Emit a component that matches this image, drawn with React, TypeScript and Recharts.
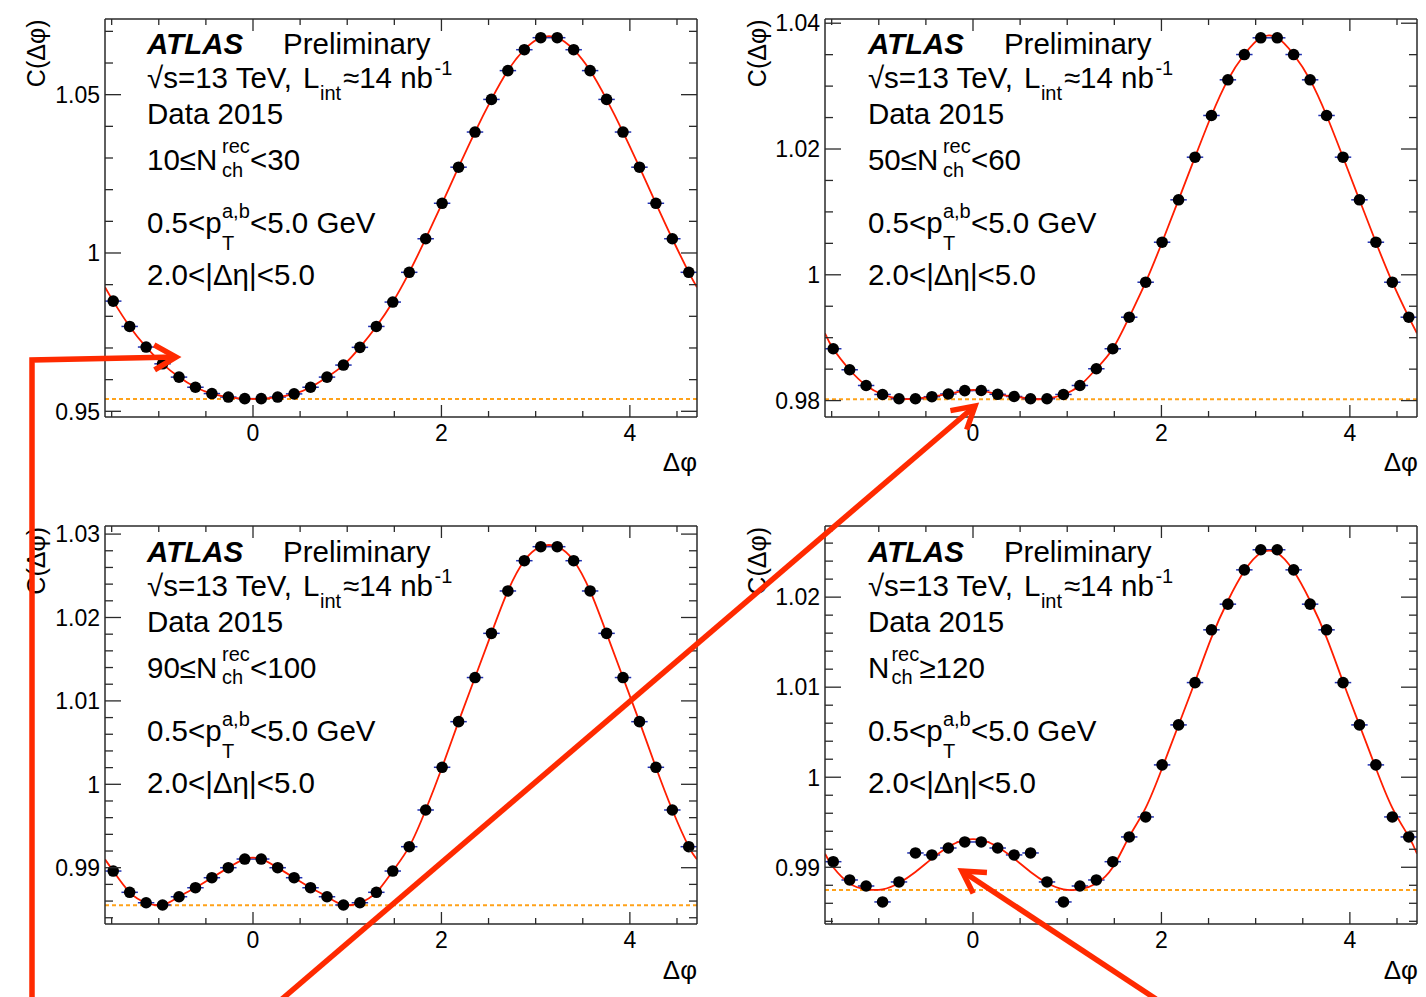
import React from 'react';
import { ComposedChart, Scatter, Line, XAxis, YAxis, ReferenceLine, ErrorBar } from 'recharts';

// ---- categories: Δφ bin centres (36 bins over [-π/2, 3π/2]) ----
const DPHI = [-1.4835, -1.309, -1.1345, -0.9599, -0.7854, -0.6109, -0.4363, -0.2618, -0.0873, 0.0873, 0.2618, 0.4363, 0.6109, 0.7854, 0.9599, 1.1345, 1.309, 1.4835, 1.6581, 1.8326, 2.0071, 2.1817, 2.3562, 2.5307, 2.7053, 2.8798, 3.0543, 3.2289, 3.4034, 3.5779, 3.7525, 3.927, 4.1015, 4.2761, 4.4506, 4.6251];
const X_MIN = -1.5708;
const X_MAX = 4.7124;
const HALF_BIN = 0.0873;

// ---- series values: C(Δφ) data points ----
const c1Data = [0.9848, 0.9768, 0.9703, 0.965, 0.9608, 0.9576, 0.9556, 0.9545, 0.954, 0.954, 0.9545, 0.9555, 0.9576, 0.9608, 0.9646, 0.9702, 0.9768, 0.9845, 0.9939, 1.0045, 1.0157, 1.0271, 1.0382, 1.0485, 1.0576, 1.0642, 1.068, 1.068, 1.0642, 1.0576, 1.0485, 1.0382, 1.0271, 1.0157, 1.0045, 0.9939];
const c2Data = [0.98824, 0.9849, 0.9824, 0.98097, 0.98029, 0.98029, 0.98062, 0.98105, 0.98158, 0.9816, 0.981, 0.98065, 0.98029, 0.98029, 0.98097, 0.9824, 0.98506, 0.98824, 0.99326, 0.99882, 1.00518, 1.01192, 1.0187, 1.02533, 1.031, 1.03502, 1.03768, 1.03768, 1.03502, 1.031, 1.02533, 1.0187, 1.01192, 1.00518, 0.99882, 0.99326];
const c3Data = [0.9896, 0.98705, 0.9858, 0.98553, 0.98652, 0.9876, 0.9888, 0.99, 0.99104, 0.99104, 0.99, 0.9888, 0.9876, 0.98652, 0.98553, 0.9858, 0.98705, 0.9896, 0.99252, 0.99692, 1.00204, 1.00751, 1.0128, 1.0181, 1.02318, 1.02681, 1.02849, 1.02849, 1.02681, 1.02318, 1.0181, 1.0128, 1.00751, 1.00204, 0.99692, 0.99252];
const c4Data = [0.99062, 0.98859, 0.98792, 0.98615, 0.98837, 0.99159, 0.99137, 0.99214, 0.99281, 0.99281, 0.99214, 0.99137, 0.99159, 0.98837, 0.98615, 0.98792, 0.98859, 0.99062, 0.99337, 0.99559, 1.00137, 1.00581, 1.01051, 1.01637, 1.01922, 1.02303, 1.02526, 1.02526, 1.02303, 1.01922, 1.01637, 1.01051, 1.00581, 1.00137, 0.99559, 0.99337];

// ---- fit curves (values at the plot edges, then at bin centres) ----
const FIT_X = [X_MIN, ...DPHI, X_MAX];
const c1FitEdge = 0.9892;
const c2FitEdge = 0.9907;
const c3FitEdge = 0.991;
const c4Fit = [0.9915, 0.99, 0.9882, 0.98755, 0.98755, 0.98826, 0.98948, 0.99096, 0.99225, 0.99303, 0.99303, 0.99225, 0.99096, 0.98948, 0.98826, 0.98755, 0.98755, 0.9882, 0.99, 0.9934, 0.9966, 1.001, 1.0058, 1.0106, 1.0155, 1.0196, 1.0229, 1.0249, 1.0249, 1.0229, 1.0196, 1.0155, 1.0106, 1.0058, 1.001, 0.9966, 0.9934, 0.9915];

// ---- ZYAM baselines ----
const BASELINES = [0.9539, 0.9802, 0.9855, 0.98748];

// ---- tick labels ----
const X_TICKS = [-1.5, -1, -0.5, 0, 0.5, 1, 1.5, 2, 2.5, 3, 3.5, 4, 4.5];
const X_MAJOR = [0, 2, 4];
const X_LABELS = ['0', '2', '4'];

const Y1_TICKS = [0.95, 0.96, 0.97, 0.98, 0.99, 1.0, 1.01, 1.02, 1.03, 1.04, 1.05, 1.06, 1.07];
const Y1_MAJOR = [0.95, 1.0, 1.05];
const Y1_LABELS = ['0.95', '1', '1.05'];
const Y2_TICKS = [0.98, 0.985, 0.99, 0.995, 1.0, 1.005, 1.01, 1.015, 1.02, 1.025, 1.03, 1.035, 1.04];
const Y2_MAJOR = [0.98, 1.0, 1.02, 1.04];
const Y2_LABELS = ['0.98', '1', '1.02', '1.04'];
const Y3_TICKS = [0.984, 0.986, 0.988, 0.99, 0.992, 0.994, 0.996, 0.998, 1.0, 1.002, 1.004, 1.006, 1.008, 1.01, 1.012, 1.014, 1.016, 1.018, 1.02, 1.022, 1.024, 1.026, 1.028, 1.03];
const Y3_MAJOR = [0.99, 1.0, 1.01, 1.02, 1.03];
const Y3_LABELS = ['0.99', '1', '1.01', '1.02', '1.03'];
const Y4_TICKS = [0.984, 0.986, 0.988, 0.99, 0.992, 0.994, 0.996, 0.998, 1.0, 1.002, 1.004, 1.006, 1.008, 1.01, 1.012, 1.014, 1.016, 1.018, 1.02, 1.022, 1.024, 1.026];
const Y4_MAJOR = [0.99, 1.0, 1.01, 1.02];
const Y4_LABELS = ['0.99', '1', '1.01', '1.02'];

const MULT_PRE = ['10≤N', '50≤N', '90≤N', 'N'];
const MULT_POST = ['<30', '<60', '<100', '≥120'];

const FONT = '"Liberation Sans", Arial, Helvetica, sans-serif';
const AXIS_COLOR = '#2a2a2a';
const PLOT_W = 592;
const PLOT_H = 398;
const LEFT_W = 100;
const TOP_H = 1;
const TOP_M = 9;
const RIGHT_W = 1;
const RIGHT_M = 9;
const BOTTOM_H = 60;
const TICK_FONT = 23;

const isMajor = (majors: number[], v: number) => majors.findIndex((m) => Math.abs(m - v) < 1e-7);

function makeXTick(side: 'bottom' | 'top') {
  return (props: any) => {
    const { x, y, payload } = props;
    const mi = isMajor(X_MAJOR, payload.value);
    const len = mi >= 0 ? 12 : 6;
    const dir = side === 'bottom' ? -1 : 1;
    return (
      <g>
        <line x1={x} x2={x} y1={y} y2={y + dir * len} stroke={AXIS_COLOR} strokeWidth={1.3} />
        {side === 'bottom' && mi >= 0 && (
          <text x={x} y={y + 24} textAnchor="middle" fontFamily={FONT} fontSize={TICK_FONT} fill="#000">
            {X_LABELS[mi]}
          </text>
        )}
      </g>
    );
  };
}

function makeYTick(side: 'left' | 'right', majors: number[], labels: string[]) {
  return (props: any) => {
    const { x, y, payload } = props;
    const mi = isMajor(majors, payload.value);
    const len = mi >= 0 ? 16 : 8;
    const dir = side === 'left' ? 1 : -1;
    return (
      <g>
        <line x1={x} x2={x + dir * len} y1={y} y2={y} stroke={AXIS_COLOR} strokeWidth={1.3} />
        {side === 'left' && mi >= 0 && (
          <text x={x - 5} y={y} dy="0.36em" textAnchor="end" fontFamily={FONT} fontSize={TICK_FONT} fill="#000">
            {labels[mi]}
          </text>
        )}
      </g>
    );
  };
}

const Marker = (p: any) => <circle cx={p.cx} cy={p.cy} r={5.8} fill="#000" />;
const NoMarker = () => <g />;

type PanelCfg = {
  left: number;
  top: number;
  domain: [number, number];
  ticks: number[];
  major: number[];
  labels: string[];
  base: number;
  values: number[];
  fit: number[];
};

const PANELS: PanelCfg[] = [
  { left: 104.5, top: 18.5, domain: [0.9482, 1.0739], ticks: Y1_TICKS, major: Y1_MAJOR, labels: Y1_LABELS, base: BASELINES[0], values: c1Data, fit: [c1FitEdge, ...c1Data, c1FitEdge] },
  { left: 825.4, top: 18.5, domain: [0.97739, 1.04067], ticks: Y2_TICKS, major: Y2_MAJOR, labels: Y2_LABELS, base: BASELINES[1], values: c2Data, fit: [c2FitEdge, ...c2Data, c2FitEdge] },
  { left: 104.5, top: 526, domain: [0.98325, 1.03097], ticks: Y3_TICKS, major: Y3_MAJOR, labels: Y3_LABELS, base: BASELINES[2], values: c3Data, fit: [c3FitEdge, ...c3Data, c3FitEdge] },
  { left: 825.4, top: 526, domain: [0.9837, 1.0279], ticks: Y4_TICKS, major: Y4_MAJOR, labels: Y4_LABELS, base: BASELINES[3], values: c4Data, fit: c4Fit },
];

function Panel({ cfg }: { cfg: PanelCfg }) {
  const pts = DPHI.map((x, i) => ({ x, y: cfg.values[i], ex: HALF_BIN }));
  const fit = FIT_X.map((x, i) => ({ x, y: cfg.fit[i] }));
  const stroke = { stroke: AXIS_COLOR, strokeWidth: 1.5 };
  return (
    <div style={{ position: 'absolute', left: cfg.left - LEFT_W, top: cfg.top - TOP_M - TOP_H }}>
      <ComposedChart
        width={LEFT_W + PLOT_W + RIGHT_W + RIGHT_M}
        height={TOP_M + TOP_H + PLOT_H + BOTTOM_H}
        margin={{ top: TOP_M, right: RIGHT_M, bottom: 0, left: 0 }}
      >
        <XAxis xAxisId="t" orientation="top" dataKey="x" type="number" domain={[X_MIN, X_MAX]} allowDataOverflow ticks={X_TICKS} interval={0} height={TOP_H} tickSize={0} tickMargin={0} tickLine={false} axisLine={stroke} tick={makeXTick('top')} />
        <XAxis xAxisId="b" orientation="bottom" dataKey="x" type="number" domain={[X_MIN, X_MAX]} allowDataOverflow ticks={X_TICKS} interval={0} height={BOTTOM_H} tickSize={0} tickMargin={0} tickLine={false} axisLine={stroke} tick={makeXTick('bottom')} />
        <YAxis yAxisId="l" orientation="left" dataKey="y" type="number" domain={cfg.domain} allowDataOverflow ticks={cfg.ticks} interval={0} width={LEFT_W} tickSize={0} tickMargin={0} tickLine={false} axisLine={stroke} tick={makeYTick('left', cfg.major, cfg.labels)} />
        <YAxis yAxisId="r" orientation="right" dataKey="y" type="number" domain={cfg.domain} allowDataOverflow ticks={cfg.ticks} interval={0} width={RIGHT_W} tickSize={0} tickMargin={0} tickLine={false} axisLine={stroke} tick={makeYTick('right', cfg.major, cfg.labels)} />
        <ReferenceLine xAxisId="b" yAxisId="l" y={cfg.base} stroke="#ffa21a" strokeWidth={2} strokeDasharray="4 3" />
        <Scatter xAxisId="t" yAxisId="r" data={pts} dataKey="y" shape={NoMarker} isAnimationActive={false} />
        <Scatter xAxisId="b" yAxisId="l" data={pts} dataKey="y" shape={Marker} isAnimationActive={false}>
          <ErrorBar dataKey="ex" direction="x" width={0} stroke="#1f2fb0" strokeWidth={1.5} isAnimationActive={false} />
        </Scatter>
        <Line xAxisId="b" yAxisId="l" data={fit} dataKey="y" type="natural" stroke="#ff1e00" strokeWidth={1.8} dot={false} activeDot={false} isAnimationActive={false} />
      </ComposedChart>
    </div>
  );
}

const TXT = { fontFamily: FONT, fill: '#000' } as const;
const BIG = 29.5;
const SMALL = 20;

function PanelText({ idx, dx, dy }: { idx: number; dx: number; dy: number }) {
  const supX = idx === 3 ? 170.5 : 222;
  const postX = idx === 3 ? 198.5 : 250;
  return (
    <g transform={`translate(${dx},${dy})`}>
      <text x={45} y={19.5} transform="rotate(-90 45 19.5)" textAnchor="end" fontSize={25} {...TXT}>C(Δφ)</text>
      <text x={697} y={471} textAnchor="end" fontSize={26} {...TXT}>Δφ</text>
      <text x={147} y={54} fontSize={BIG} fontWeight="bold" fontStyle="italic" {...TXT}>ATLAS</text>
      <text x={283} y={54} fontSize={BIG} {...TXT}>Preliminary</text>
      <text x={147} y={88} fontSize={BIG} {...TXT}>√s=13 TeV,</text>
      <text x={303} y={88} fontSize={BIG} {...TXT}>L</text>
      <text x={320} y={100} fontSize={SMALL} {...TXT}>int</text>
      <text x={343} y={88} fontSize={BIG} {...TXT}>≈14 nb</text>
      <text x={434.5} y={75} fontSize={SMALL} {...TXT}>-1</text>
      <text x={147} y={124} fontSize={BIG} {...TXT}>Data 2015</text>
      <text x={147} y={170} fontSize={BIG} {...TXT}>{MULT_PRE[idx]}</text>
      <text x={supX} y={153.3} fontSize={SMALL} {...TXT}>rec</text>
      <text x={supX} y={176.7} fontSize={SMALL} {...TXT}>ch</text>
      <text x={postX} y={170} fontSize={BIG} {...TXT}>{MULT_POST[idx]}</text>
      <text x={147} y={233} fontSize={BIG} {...TXT}>0.5&lt;p</text>
      <text x={222} y={218.3} fontSize={SMALL} {...TXT}>a,b</text>
      <text x={222} y={250} fontSize={SMALL} {...TXT}>T</text>
      <text x={250} y={233} fontSize={BIG} {...TXT}>&lt;5.0 GeV</text>
      <text x={147} y={285} fontSize={BIG} {...TXT}>2.0&lt;|Δη|&lt;5.0</text>
    </g>
  );
}

function Arrow({ pts }: { pts: [number, number][] }) {
  const n = pts.length;
  const [tx, ty] = pts[n - 1];
  const [px, py] = pts[n - 2];
  const d = Math.hypot(px - tx, py - ty);
  const ux = (px - tx) / d;
  const uy = (py - ty) / d;
  const a = (30 * Math.PI) / 180;
  const L = 25;
  const h1: [number, number] = [tx + L * (ux * Math.cos(a) - uy * Math.sin(a)), ty + L * (ux * Math.sin(a) + uy * Math.cos(a))];
  const h2: [number, number] = [tx + L * (ux * Math.cos(a) + uy * Math.sin(a)), ty + L * (-ux * Math.sin(a) + uy * Math.cos(a))];
  const col = '#ff2a00';
  return (
    <g fill="none" stroke={col} strokeWidth={5.5}>
      <polyline points={pts.map((p) => p.join(',')).join(' ')} strokeLinejoin="miter" />
      <polyline points={`${h1.join(',')} ${tx},${ty} ${h2.join(',')}`} strokeLinejoin="miter" />
    </g>
  );
}

export default function App() {
  const offs: [number, number][] = [
    [0, 0],
    [720.9, 0],
    [0, 507.5],
    [720.9, 507.5],
  ];
  return (
    <div style={{ position: 'absolute', left: 0, top: 0, width: 1426, height: 997, background: '#fff', overflow: 'hidden' }}>
      {PANELS.map((p, i) => (
        <Panel key={i} cfg={p} />
      ))}
      <svg width={1426} height={997} style={{ position: 'absolute', left: 0, top: 0, pointerEvents: 'none' }}>
        {offs.map(([dx, dy], i) => (
          <PanelText key={i} idx={i} dx={dx} dy={dy} />
        ))}
        <Arrow pts={[[32, 1000], [32, 360], [176, 357]]} />
        <Arrow pts={[[282, 999], [975, 406]]} />
        <Arrow pts={[[1156, 999], [962, 871]]} />
      </svg>
    </div>
  );
}
